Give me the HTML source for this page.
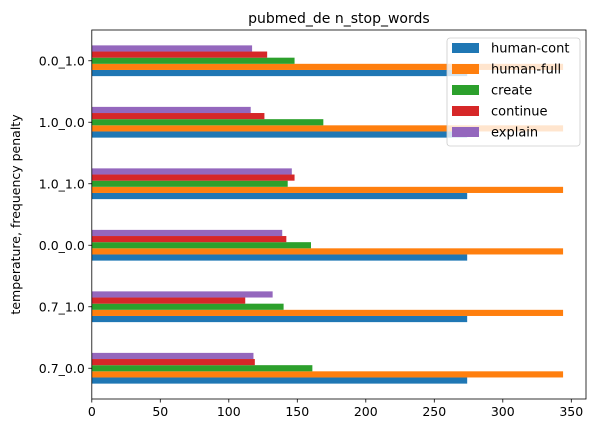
<!DOCTYPE html>
<html><head><meta charset="utf-8"><style>
body{margin:0;background:#fff;}
svg{font-family:"DejaVu Sans","Liberation Sans",sans-serif;}
</style></head><body>
<svg id="chart" width="596" height="433">
<g id="bars"></g>
<g id="axes"></g>
</svg>
<script>
const categories = ["0.7_0.0","0.7_1.0","0.0_0.0","1.0_1.0","1.0_0.0","0.0_1.0"];
const seriesNames = ["human-cont","human-full","create","continue","explain"];
const humanCont = [274,274,274,274,274,274];
const humanFull = [344,344,344,344,344,344];
const create = [161,140,160,143,169,148];
const cont = [119,112,142,148,126,128];
const explain = [118,132,139,146,116,117];
const xTicks = [0,50,100,150,200,250,300,350];
const colors = ["#1f77b4","#ff7f0e","#2ca02c","#d62728","#9467bd"];
const series = [humanCont,humanFull,create,cont,explain];

const L=91.8,R=586,T=30,B=399;
const xmax=(R-L)/1.37;
const x=v=>L+v/xmax*(R-L);
const y=v=>B-(v+0.5)/6*(B-T);
const NS="http://www.w3.org/2000/svg";
function mk(tag,attrs,parent,text){const e=document.createElementNS(NS,tag);for(const k in attrs)e.setAttribute(k,attrs[k]);if(text!==undefined)e.textContent=text;parent.appendChild(e);return e;}
const bars=document.getElementById('bars'), axes=document.getElementById('axes');
const bw=0.5/5;
categories.forEach((c,i)=>{
  series.forEach((s,j)=>{
    const yc=i-0.25+bw*(j+0.5);
    const r=mk('rect',{x:x(0),y:y(yc+bw/2),width:x(s[i])-x(0),height:y(yc-bw/2)-y(yc+bw/2),fill:colors[j]},bars);
    
    
  });
  mk('line',{x1:L-3.5,x2:L,y1:y(i),y2:y(i),stroke:'#000','stroke-width':0.8},axes);
  const t=mk('text',{x:L-7,y:y(i)+4.5,'text-anchor':'end','font-size':12.5},axes,c);
  
  
});
xTicks.forEach(v=>{
  mk('line',{x1:x(v),x2:x(v),y1:B,y2:B+3.5,stroke:'#000','stroke-width':0.8},axes);
  const t=mk('text',{x:x(v),y:B+17,'text-anchor':'middle','font-size':12.5},axes,v);
  
  
});
mk('rect',{x:L,y:T,width:R-L,height:B-T,fill:'none',stroke:'#000','stroke-width':0.8},axes);
const title=mk('text',{x:(L+R)/2,y:T-7,'text-anchor':'middle','font-size':14},axes,'pubmed_de n_stop_words');


const yl=mk('text',{x:0,y:0,'text-anchor':'middle','font-size':12.5,transform:`translate(20,${(T+B)/2}) rotate(-90)`},axes,'temperature, frequency penalty');


const lg=mk('g',{},axes);


mk('rect',{x:447,y:38,width:133,height:108,rx:3,fill:'#fff','fill-opacity':0.8,stroke:'#ccc','stroke-width':0.8},lg);
seriesNames.forEach((n,j)=>{
  const cy=48+j*21;
  mk('rect',{x:452,y:cy-5,width:27,height:10,fill:colors[j]},lg);
  const t=mk('text',{x:491,y:cy+4.5,'font-size':13},lg,n);
  
  
});
</script>
</body></html>
